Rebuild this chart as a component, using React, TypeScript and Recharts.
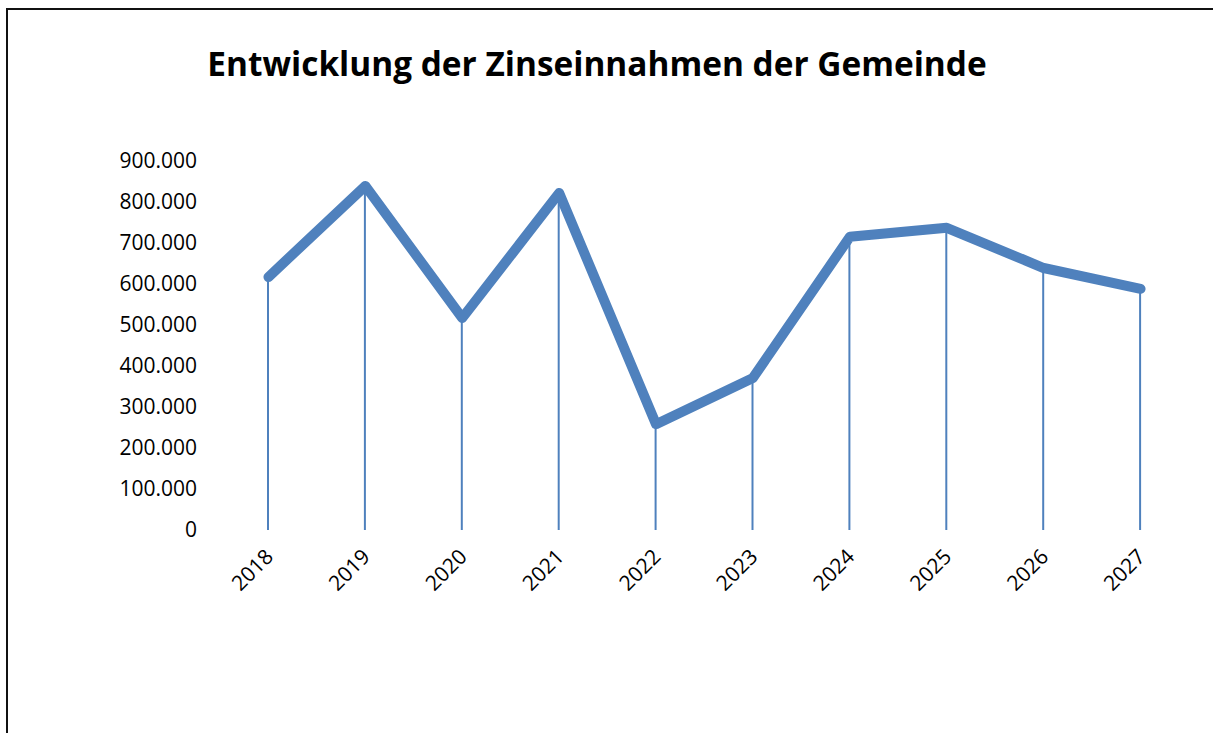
import React from 'react';
import { Bar, ComposedChart, Line, XAxis, YAxis } from 'recharts';

const years = ['2018', '2019', '2020', '2021', '2022', '2023', '2024', '2025', '2026', '2027'];
const zinseinnahmen = [617000, 839000, 517000, 822000, 258000, 371000, 715000, 737000, 639000, 588000];
const yTicks = [0, 100000, 200000, 300000, 400000, 500000, 600000, 700000, 800000, 900000];

const data = years.map((year, i) => ({ year, wert: zinseinnahmen[i] }));

const BLUE = '#4F81BD';
const FONT = '"Open Sans", sans-serif';

const formatDe = (v: number) => (v === 0 ? '0' : v.toLocaleString('de-DE'));

const YearTick = (props: any) => {
  const { x, y, payload } = props;
  return (
    <g transform={`translate(${x + 6},${y + 20})`}>
      <text transform="rotate(-45)" textAnchor="end" fontSize={21} fontFamily={FONT} fill="#000">
        {payload.value}
      </text>
    </g>
  );
};

const App = () => {
  return (
    <div
      style={{
        position: 'fixed',
        left: 6,
        top: 8,
        width: 1207,
        height: 725,
        borderTop: '2px solid #111',
        borderLeft: '2px solid #111',
        boxSizing: 'border-box',
        background: '#fff',
      }}
    >
      <div
        style={{
          position: 'absolute',
          top: 30,
          left: 0,
          width: 1178,
          textAlign: 'center',
          fontFamily: FONT,
          fontWeight: 700,
          fontSize: 33.4,
          color: '#000',
        }}
      >
        Entwicklung der Zinseinnahmen der Gemeinde
      </div>
      <ComposedChart
        width={1203}
        height={722}
        data={data}
        margin={{ top: 151, right: 22, bottom: 0, left: 0 }}
        barCategoryGap={0}
      >
        <XAxis
          dataKey="year"
          axisLine={false}
          tickLine={false}
          height={202}
          interval={0}
          tick={<YearTick />}
        />
        <YAxis
          width={212}
          domain={[0, 900000]}
          ticks={yTicks}
          axisLine={false}
          tickLine={false}
          tickMargin={17}
          tickFormatter={formatDe}
          tick={{ fontSize: 21, fontFamily: FONT, fill: '#000' }}
        />
        <Bar dataKey="wert" fill={BLUE} barSize={2} isAnimationActive={false} />
        <Line
          type="linear"
          dataKey="wert"
          stroke={BLUE}
          strokeWidth={10}
          strokeLinecap="round"
          strokeLinejoin="round"
          dot={false}
          activeDot={false}
          isAnimationActive={false}
        />
      </ComposedChart>
    </div>
  );
};

export default App;
